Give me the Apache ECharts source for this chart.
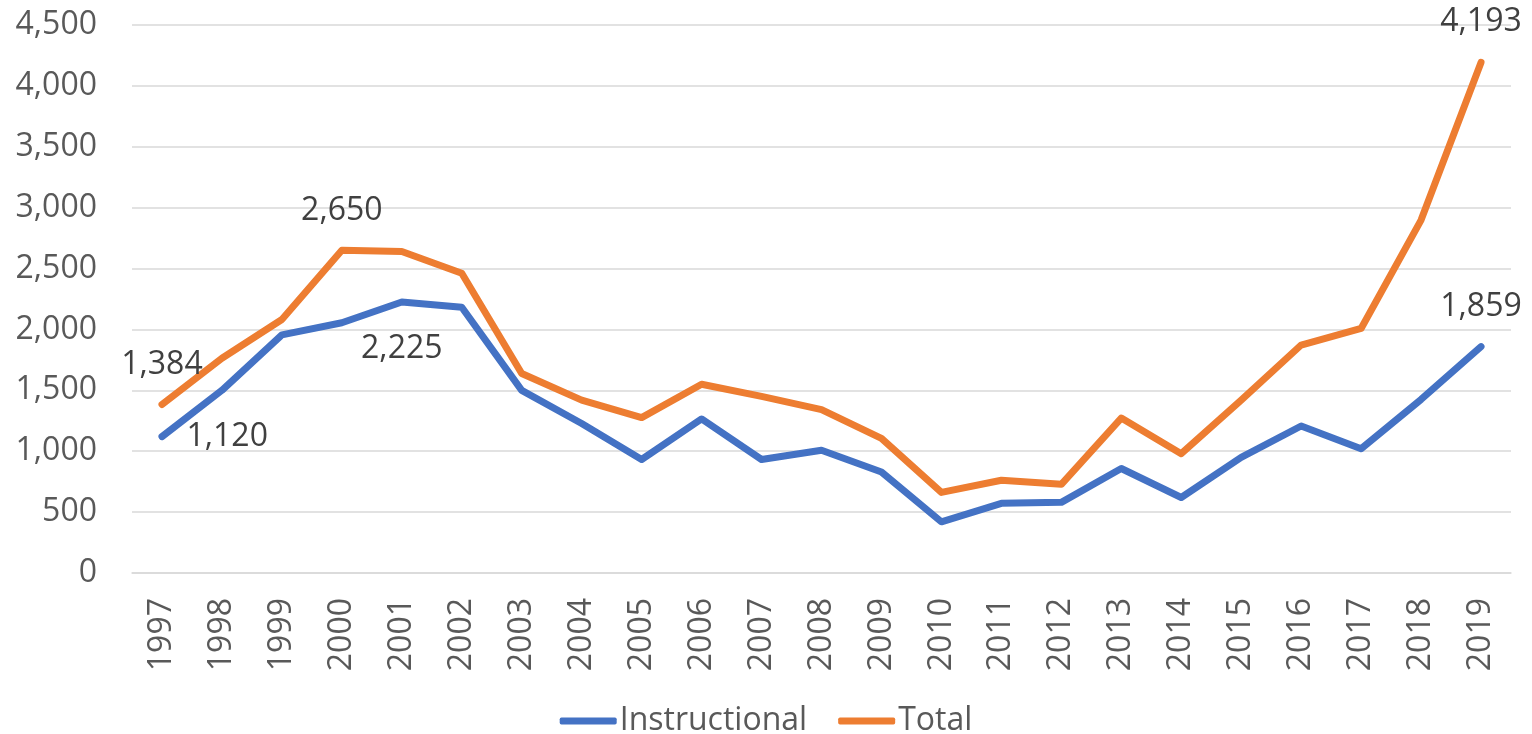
<!DOCTYPE html>
<html>
<head>
<meta charset="utf-8">
<script src="https://cdn.jsdelivr.net/npm/echarts@6/dist/echarts.min.js"></script>
<style>
  html, body { margin: 0; padding: 0; background: #fff; }
</style>
</head>
<body>
<div id="main" style="width: 1532px; height: 734px"></div>
<script>
var years = ["1997", "1998", "1999", "2000", "2001", "2002", "2003", "2004", "2005", "2006", "2007", "2008",
  "2009", "2010", "2011", "2012", "2013", "2014", "2015", "2016", "2017", "2018", "2019"];
var instructional = [1120, 1500, 1955, 2055, 2225, 2182, 1500, 1228, 932, 1265, 932, 1008,
  829, 420, 572, 580, 858, 620, 950, 1207, 1020, 1425, 1859];
var total = [1384, 1763, 2082, 2650, 2640, 2462, 1638, 1420, 1276, 1550, 1450, 1342,
  1105, 662, 762, 728, 1272, 980, 1420, 1872, 2008, 2898, 4193];
var yTicks = [0, 500, 1000, 1500, 2000, 2500, 3000, 3500, 4000, 4500];

// which points carry a value label, and where
var instructionalLabels = { 0: ["right", 24], 4: ["bottom", 30], 22: ["top", 23] };
var totalLabels = { 0: ["top", 23], 3: ["top", 23], 22: ["top", 24] };

var FONT = "Open Sans";
var FS = 32;

function withLabels(values, labels) {
  return values.map(function (v, i) {
    var l = labels[i];
    if (!l) return v;
    return {
      value: v,
      label: {
        show: true,
        position: l[0],
        distance: l[1],
        fontFamily: FONT,
        fontSize: FS,
        color: "#404040",
        formatter: function (p) { return p.value.toLocaleString("en-US"); }
      }
    };
  });
}

var myChart = echarts.init(document.getElementById("main"));
var option = {
  animation: false,
  textStyle: { fontFamily: FONT },
  grid: {
    left: 132,
    right: 21,
    top: 25,
    bottom: 161,
    containLabel: false
  },
  legend: {
    top: 700,
    left: "center",
    itemWidth: 57,
    itemHeight: 7,
    itemGap: 31,
    icon: "roundRect",
    textStyle: { fontFamily: FONT, fontSize: FS, color: "#595959", padding: [0, 0, 0, -2] },
    data: ["Instructional", "Total"]
  },
  xAxis: {
    type: "category",
    data: years,
    boundaryGap: true,
    axisLine: { lineStyle: { color: "#D9D9D9", width: 1.5 } },
    axisTick: { show: false },
    axisLabel: {
      rotate: 90,
      margin: 25,
      fontFamily: FONT,
      fontSize: FS,
      color: "#595959",
      interval: 0
    }
  },
  yAxis: {
    type: "value",
    min: 0,
    max: 4500,
    interval: 500,
    axisLine: { show: false },
    axisTick: { show: false },
    splitLine: { lineStyle: { color: "#D9D9D9", width: 1.5 } },
    axisLabel: {
      margin: 35,
      fontFamily: FONT,
      fontSize: FS,
      color: "#595959",
      customValues: yTicks,
      formatter: function (v) { return v.toLocaleString("en-US"); }
    }
  },
  series: [
    {
      name: "Instructional",
      type: "line",
      data: withLabels(instructional, instructionalLabels),
      symbol: "circle",
      symbolSize: 1,
      showSymbol: true,
      itemStyle: { color: "#4472C4" },
      lineStyle: { color: "#4472C4", width: 7, cap: "round", join: "round" }
    },
    {
      name: "Total",
      type: "line",
      data: withLabels(total, totalLabels),
      symbol: "circle",
      symbolSize: 1,
      showSymbol: true,
      itemStyle: { color: "#ED7D31" },
      lineStyle: { color: "#ED7D31", width: 7, cap: "round", join: "round" }
    }
  ]
};

option && myChart.setOption(option);
</script>
</body>
</html>
